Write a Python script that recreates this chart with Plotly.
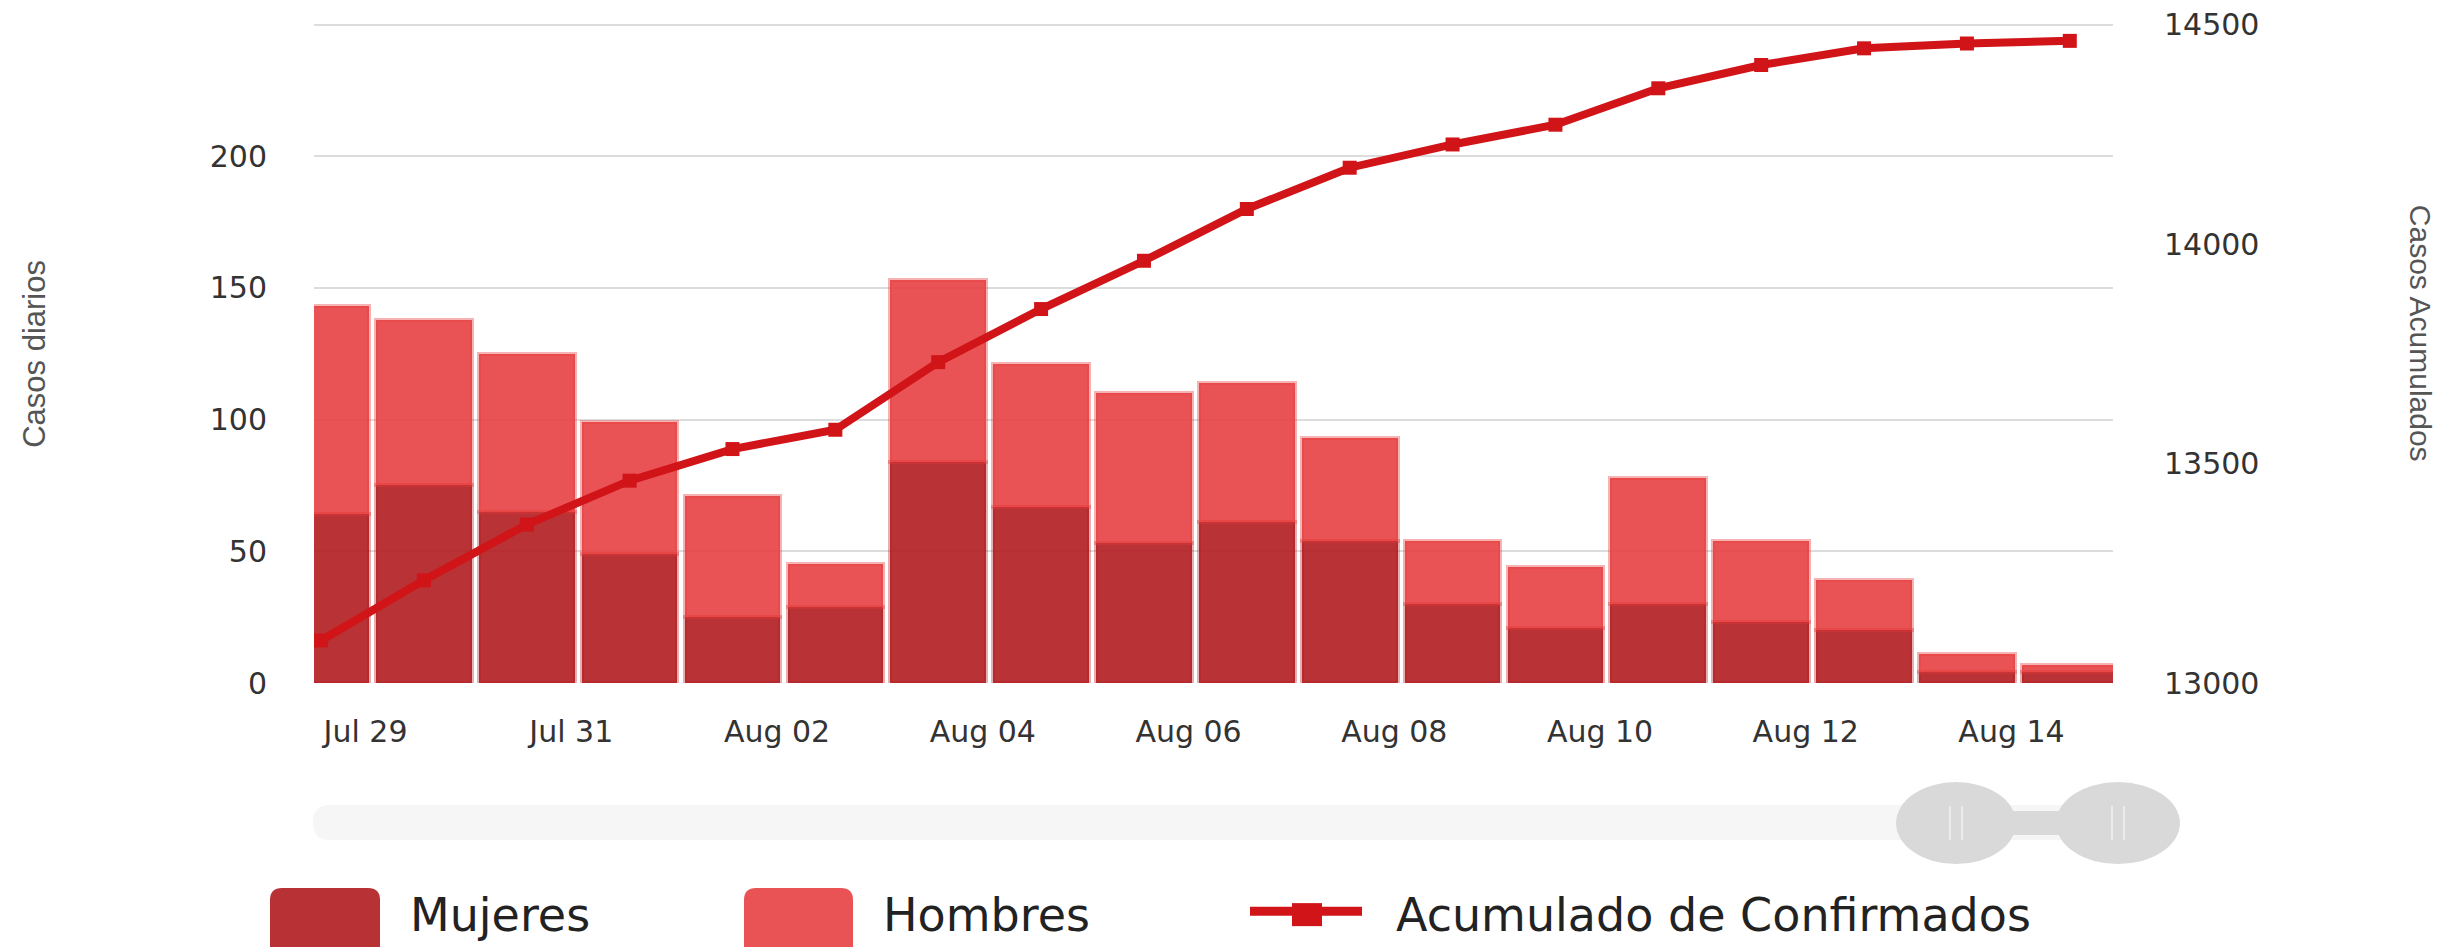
import plotly.graph_objects as go
import pandas as pd

# ---------------- data ----------------
dates = ["2020-07-29", "2020-07-30", "2020-07-31", "2020-08-01", "2020-08-02", "2020-08-03",
         "2020-08-04", "2020-08-05", "2020-08-06", "2020-08-07", "2020-08-08", "2020-08-09",
         "2020-08-10", "2020-08-11", "2020-08-12", "2020-08-13", "2020-08-14", "2020-08-15"]
mujeres = [64, 75, 65, 49, 25, 29, 84, 67, 53, 61, 54, 30, 21, 30, 23, 20, 4, 4]
hombres = [79, 63, 60, 50, 46, 16, 69, 54, 57, 53, 39, 24, 23, 48, 31, 19, 7, 3]
acumulado = [13097, 13234, 13361, 13461, 13533, 13577, 13731, 13852, 13962, 14080,
             14174, 14227, 14272, 14355, 14408, 14446, 14457, 14463]
tick_dates = ["2020-07-29", "2020-07-31", "2020-08-02", "2020-08-04", "2020-08-06",
              "2020-08-08", "2020-08-10", "2020-08-12", "2020-08-14"]
tick_labels = ["Jul 29", "Jul 31", "Aug 02", "Aug 04", "Aug 06", "Aug 08", "Aug 10", "Aug 12", "Aug 14"]
left_ticks = [0, 50, 100, 150, 200, 250]
left_labels = ["0", "50", "100", "150", "200", ""]
right_ticks = [13000, 13500, 14000, 14500]
right_labels = ["13000", "13500", "14000", "14500"]

# ---------------- geometry helpers (page pixel coords) ----------------
W, H = 2451, 947
OFF = 8  # default body margin of the page
Y_TOP = 251  # small headroom so the 250 gridline is drawn
L, R, B = 314, 2113, 683
T = B - (B - 25) * Y_TOP / 250.0  # 250 sits at page y = 25


def px(x):
    return (x - L) / (R - L)


def py(y):
    return (B - y) / (B - T)


def rrect(x0, y0, x1, y1, r):
    pts = [
        f"M{px(x0 + r)},{py(y0)}",
        f"L{px(x1 - r)},{py(y0)}",
        f"Q{px(x1)},{py(y0)} {px(x1)},{py(y0 + r)}",
        f"L{px(x1)},{py(y1 - r)}",
        f"Q{px(x1)},{py(y1)} {px(x1 - r)},{py(y1)}",
        f"L{px(x0 + r)},{py(y1)}",
        f"Q{px(x0)},{py(y1)} {px(x0)},{py(y1 - r)}",
        f"L{px(x0)},{py(y0 + r)}",
        f"Q{px(x0)},{py(y0)} {px(x0 + r)},{py(y0)}",
        "Z",
    ]
    return " ".join(pts)


C_MUJ = "rgba(177,28,31,0.9)"
C_MUJ_LINE = "rgba(177,28,31,0.35)"
C_HOM = "rgba(232,64,66,0.9)"
C_HOM_LINE = "rgba(232,64,66,0.4)"
C_LINE = "#D01418"
FONT = "DejaVu Sans"

x = pd.to_datetime(dates)
t0 = x[0]
tickvals = pd.to_datetime(tick_dates) + pd.Timedelta(hours=10.4)

fig = go.Figure()
fig.add_trace(go.Bar(x=x, y=mujeres, name="Mujeres",
                     marker=dict(color=C_MUJ, line=dict(color=C_MUJ_LINE, width=4))))
fig.add_trace(go.Bar(x=x, y=hombres, name="Hombres",
                     marker=dict(color=C_HOM, line=dict(color=C_HOM_LINE, width=4))))
fig.add_trace(go.Scatter(x=x, y=acumulado, name="Acumulado de Confirmados", yaxis="y2",
                         mode="lines+markers",
                         line=dict(color=C_LINE, width=8),
                         marker=dict(symbol="square", size=14, color=C_LINE)))

shapes = []
shapes.append(dict(type="path", xref="paper", yref="paper", path=rrect(313, 805, 2150, 840, 17),
                   fillcolor="#f6f6f6", line=dict(width=0), layer="below"))
shapes.append(dict(type="rect", xref="paper", yref="paper",
                   x0=px(2005), x1=px(2065), y0=py(811), y1=py(835),
                   fillcolor="#d9d9d9", line=dict(width=0)))
for cx0, cx1 in [(1896, 2016), (2056, 2180)]:
    shapes.append(dict(type="circle", xref="paper", yref="paper",
                       x0=px(cx0), x1=px(cx1), y0=py(782), y1=py(864),
                       fillcolor="#d9d9d9", line=dict(width=0)))
    cx = (cx0 + cx1) / 2
    for dx in (-6, 6):
        shapes.append(dict(type="line", xref="paper", yref="paper",
                           x0=px(cx + dx), x1=px(cx + dx), y0=py(806), y1=py(840),
                           line=dict(color="#ececec", width=2)))

shapes.append(dict(type="path", xref="paper", yref="paper", path=rrect(270, 888, 380, 975, 12),
                   fillcolor="#B83235", line=dict(width=0)))
shapes.append(dict(type="path", xref="paper", yref="paper", path=rrect(744, 888, 853, 975, 12),
                   fillcolor="#EA5355", line=dict(width=0)))
shapes.append(dict(type="line", xref="paper", yref="paper",
                   x0=px(1250), x1=px(1362), y0=py(911), y1=py(911),
                   line=dict(color=C_LINE, width=9)))
shapes.append(dict(type="rect", xref="paper", yref="paper",
                   x0=px(1292), x1=px(1322), y0=py(903), y1=py(926),
                   fillcolor=C_LINE, line=dict(width=0)))

annotations = [
    dict(text="Casos diarios", xref="paper", yref="paper", x=px(35), y=py(354),
         textangle=-90, showarrow=False, xanchor="center", yanchor="middle",
         font=dict(family="Liberation Sans", size=31, color="#555555")),
    dict(text="Casos Acumulados", xref="paper", yref="paper", x=px(2420), y=py(333),
         textangle=90, showarrow=False, xanchor="center", yanchor="middle",
         font=dict(family="Liberation Sans", size=30, color="#555555")),
]
for label, lx in [("Mujeres", 408), ("Hombres", 881), ("Acumulado de Confirmados", 1394)]:
    annotations.append(dict(text=label, xref="paper", yref="paper", x=px(lx), y=py(915),
                            showarrow=False, xanchor="left", yanchor="middle",
                            font=dict(family=FONT, size=46, color="#222222")))

fig.update_layout(
    width=W, height=H, autosize=False,
    margin=dict(l=L - OFF, r=W - (R - OFF), t=T - OFF, b=H - (B - OFF), pad=0,
                autoexpand=False),
    paper_bgcolor="white", plot_bgcolor="white",
    barmode="stack", bargap=0.07,
    showlegend=False,
    shapes=shapes, annotations=annotations,
    xaxis=dict(type="date", automargin=False,
               range=[t0 - pd.Timedelta(days=0.068), t0 + pd.Timedelta(days=17.42)],
               tickvals=tickvals, ticktext=tick_labels, ticks="",
               showgrid=False, zeroline=False, showline=False,
               ticklabelstandoff=28, ticklabeloverflow="allow",
               tickfont=dict(family=FONT, size=30, color="#333333")),
    yaxis=dict(range=[0, Y_TOP], tickvals=left_ticks, ticktext=left_labels, automargin=False,
               showgrid=True, gridcolor="#dcdcdc", gridwidth=2,
               zeroline=False, showline=False, ticks="",
               ticklabelstandoff=46, ticklabeloverflow="allow",
               tickfont=dict(family=FONT, size=30, color="#333333")),
    yaxis2=dict(range=[13000, 13000 + Y_TOP * 6], tickvals=right_ticks, ticktext=right_labels,
                overlaying="y", side="right", automargin=False,
                showgrid=False, zeroline=False, showline=False, ticks="",
                ticklabelstandoff=50, ticklabeloverflow="allow",
                tickfont=dict(family=FONT, size=30, color="#333333")),
)

fig.write_html("out.html")
